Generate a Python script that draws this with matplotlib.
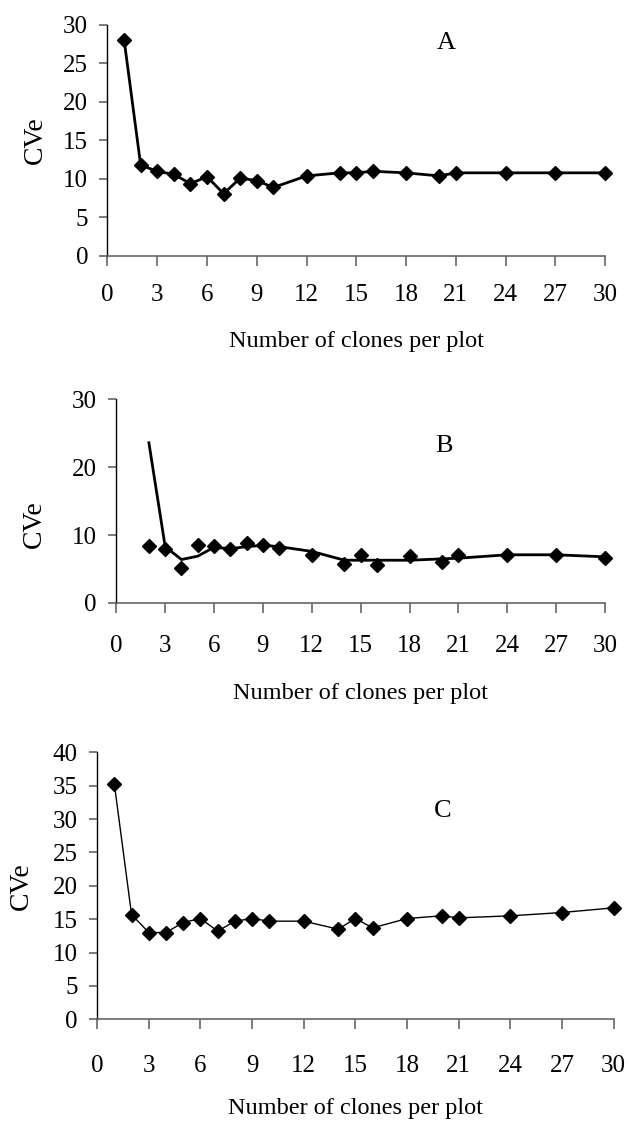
import matplotlib
matplotlib.use("Agg")
import matplotlib.pyplot as plt

# number of clones per plot
clones = [1, 2, 3, 4, 5, 6, 7, 8, 9, 10, 12, 14, 15, 16, 18, 20, 21, 24, 27, 30]

# panel A
cve_a = [28.1, 11.8, 11.0, 10.6, 9.4, 10.3, 8.1, 10.1, 9.8, 8.9,
         10.4, 10.8, 10.8, 11.0, 10.8, 10.4, 10.8, 10.8, 10.8, 10.8]

# panel B (points start at 2 clones, plus a fitted line)
clones_b = clones[1:]
cve_b = [8.4, 7.9, 5.2, 8.6, 8.4, 7.9, 8.9, 8.6, 8.1,
         7.1, 5.8, 7.1, 5.6, 6.9, 6.0, 7.1, 7.1, 7.1, 6.6]
fit_b = [23.6, 8.3, 6.4, 6.9, 8.2, 8.0, 8.3, 8.5, 8.3,
         7.6, 6.3, 6.3, 6.3, 6.3, 6.5, 6.6, 7.1, 7.1, 6.8]

# panel C
cve_c = [35.25, 15.7, 13.0, 13.0, 14.5, 15.1, 13.2, 14.7, 15.1, 14.7,
         14.7, 13.5, 15.1, 13.7, 15.1, 15.5, 15.2, 15.5, 16.0, 16.7]

xticks = list(range(0, 31, 3))

plt.rcParams['font.family'] = ['Liberation Serif', 'DejaVu Serif']

fig = plt.figure(figsize=(6.29, 11.22), dpi=100)

ax_a = fig.add_axes([0.1709, 0.77184, 0.791, 0.20588])
ax_b = fig.add_axes([0.1849, 0.46257, 0.777, 0.18155])
ax_c = fig.add_axes([0.1544, 0.09153, 0.8213, 0.23797])

ax_a.plot(clones, cve_a, color='black', lw=2, marker='D', ms=6.8, clip_on=False)
ax_b.plot(clones_b, fit_b, color='black', lw=2, clip_on=False)
ax_b.plot(clones_b, cve_b, 'D', color='black', ms=6.8, clip_on=False)
ax_c.plot(clones, cve_c, color='black', lw=1, marker='D', ms=6.8, clip_on=False)


def style(ax, ymax, ystep, letter, lx, ly, xlab_y, ylab_x, ylab_y, xpad):
    ax.set_xlim(0, 30)
    ax.set_ylim(0, ymax)
    ax.set_xticks(xticks)
    ax.set_yticks(list(range(0, ymax + 1, ystep)))
    for s in ['top', 'right']:
        ax.spines[s].set_visible(False)
    ax.spines['left'].set_linewidth(1)
    ax.spines['bottom'].set_linewidth(1.2)
    ax.spines['bottom'].set_color('0.4')
    ax.tick_params(axis='x', direction='out', length=7, width=1.2, color='0.4',
                   labelsize=18, pad=xpad)
    ax.tick_params(axis='y', direction='out', length=6, width=1.2, color='0.4',
                   labelsize=18, pad=8)
    ax.set_xlabel('Number of clones per plot', fontsize=17.5)
    ax.xaxis.set_label_coords(0.5, xlab_y)
    ax.xaxis.label.set_va('center')
    ax.set_ylabel('CVe', fontsize=20)
    ax.yaxis.set_label_coords(ylab_x, ylab_y)
    ax.yaxis.label.set_va('center')
    ax.text(lx, ly, letter, fontsize=19, ha='center', va='center')


style(ax_a, 30, 5, 'A', 20.4, 27.6, -0.372, -0.145, 0.5, 13)
style(ax_b, 30, 10, 'B', 20.1, 23.1, -0.442, -0.168, 0.388, 16)
style(ax_c, 40, 5, 'C', 20.06, 31.2, -0.335, -0.147, 0.5, 19)

fig.savefig('out.png', dpi=100)
